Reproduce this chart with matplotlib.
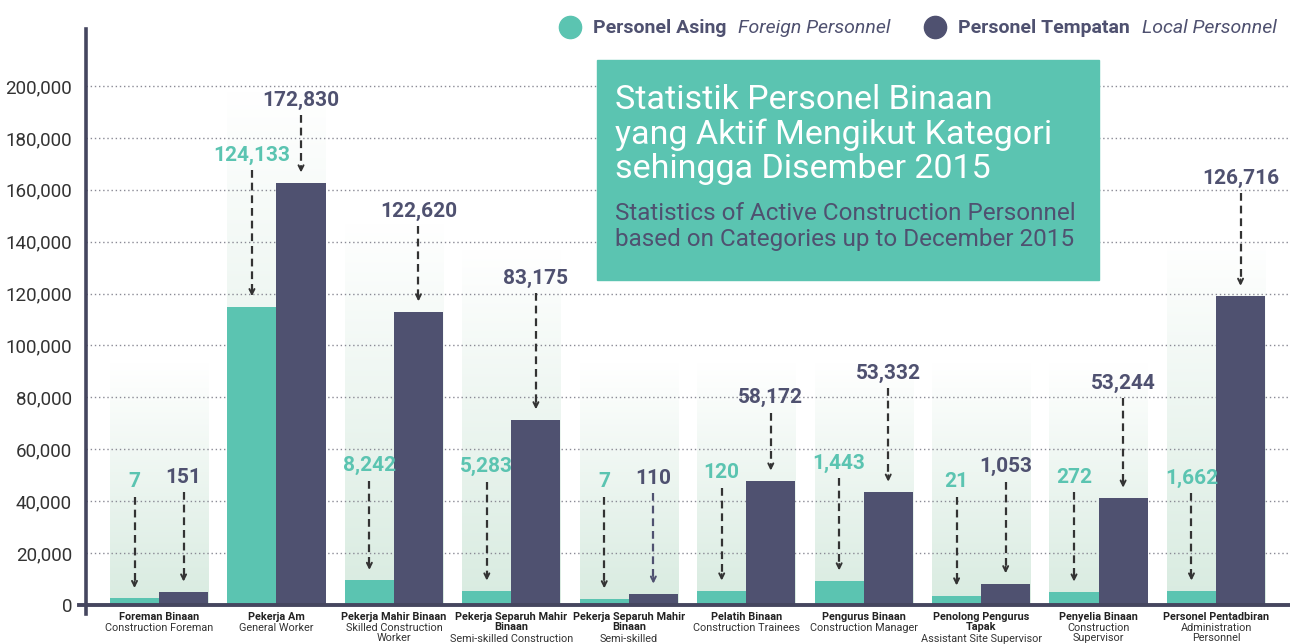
""" bar chart of active construction personnel by category, Dec 2015 """
import matplotlib.pyplot as plt
import numpy as np
from matplotlib.colors import LinearSegmentedColormap
from matplotlib.patches import Rectangle
from matplotlib.lines import Line2D

plt.rcParams['font.family'] = ['Roboto', 'DejaVu Sans']

cat_ms = ["Foreman Binaan", "Pekerja Am", "Pekerja Mahir Binaan",
          "Pekerja Separuh Mahir\nBinaan", "Pekerja Separuh Mahir\nBinaan",
          "Pelatih Binaan", "Pengurus Binaan", "Penolong Pengurus\nTapak",
          "Penyelia Binaan", "Personel Pentadbiran"]
cat_en = ["Construction Foreman", "General Worker", "Skilled Construction\nWorker",
          "Semi-skilled Construction", "Semi-skilled",
          "Construction Trainees", "Construction Manager", "Assistant Site Supervisor",
          "Construction\nSupervisor", "Administration\nPersonnel"]

# values printed on the chart
foreign_vals = [7, 124133, 8242, 5283, 7, 120, 1443, 21, 272, 1662]
local_vals = [151, 172830, 122620, 83175, 110, 58172, 53332, 1053, 53244, 126716]

# bar heights as drawn in the infographic (not to scale with the labels)
foreign_drawn = [2500, 115000, 9500, 5400, 2400, 5400, 9300, 3500, 5000, 5400]
local_drawn = [5000, 162700, 113000, 71400, 4200, 47800, 43500, 8200, 41200, 119000]

# layout: height of the faded backdrop and of the value labels
backdrop_top = [93000, 198000, 147000, 137000, 93000, 93000, 93000, 93000, 93000, 140000]
label_y_foreign = [47400, 173400, 53600, 53200, 47400, 50900, 54700, 47400, 49300, 48900]
label_y_local = [49300, 194600, 151800, 126000, 48900, 79800, 89400, 53200, 85500, 164500]

TEAL = "#5bc4b1"
SLATE = "#4f5170"
W, H = 1290, 644

fig = plt.figure(figsize=(W / 100, H / 100), dpi=100)
ax = fig.add_axes([86 / W, (H - 614) / H, 1 - 86 / W, 585 / H])

x = np.arange(len(cat_ms))
bw = 0.418

ax.set_xlim(-0.622, 9.63)
ax.set_ylim(-3500, 222000)

# faded backdrops behind each group
cmap = LinearSegmentedColormap.from_list("fade", ["#ffffff", "#d8ebe0"])
grad = np.linspace(0, 1, 256).reshape(-1, 1)
for i in x:
    ax.imshow(grad, cmap=cmap, aspect="auto", origin="upper",
              extent=[i - bw, i + bw, 0, backdrop_top[i]], zorder=0.5)

for yv in range(20000, 200001, 20000):
    ax.axhline(yv, color="#8a8a95", lw=1, ls=(0, (1, 2)), zorder=1)

ax.bar(x - bw / 2, foreign_drawn, bw, color=TEAL, zorder=2)
ax.bar(x + bw / 2, local_drawn, bw, color=SLATE, zorder=2)

ax.axhline(0, xmin=-0.006, color="#45465f", lw=2.8, zorder=3, clip_on=False)

for i in x:
    for dx, val, ly, top, col in [(-bw / 2, foreign_vals[i], label_y_foreign[i], foreign_drawn[i], TEAL),
                                   (bw / 2, local_vals[i], label_y_local[i], local_drawn[i], SLATE)]:
        xc = i + dx
        ax.text(xc, ly, f"{val:,}", ha="center", va="center", color=col,
                fontsize=15, fontweight="semibold", zorder=4)
        acol = SLATE if (i == 4 and dx > 0) else "#333333"
        ax.plot([xc, xc], [ly - 5800, top + 5200], color=acol, lw=1.6,
                ls=(0, (3.5, 2.2)), zorder=4)
        ax.annotate("", xy=(xc, top + 4000), xytext=(xc, top + 6500),
                    arrowprops=dict(arrowstyle="->", color=acol, lw=1.4,
                                    mutation_scale=9, shrinkA=0, shrinkB=0),
                    zorder=4)

# category labels
for i in x:
    ax.annotate(cat_ms[i], xy=(i, 0), xytext=(0, -7), textcoords="offset pixels",
                ha="center", va="top", fontsize=7.8, fontweight="bold",
                color="#222222", linespacing=1.0, annotation_clip=False)
    nl = cat_ms[i].count("\n") + 1
    ax.annotate(cat_en[i], xy=(i, 0), xytext=(0, -7 - 11 * nl), textcoords="offset pixels",
                ha="center", va="top", fontsize=7.8, color="#333333",
                linespacing=1.0, annotation_clip=False)

ax.set_yticks(range(0, 200001, 20000))
ax.set_yticklabels([f"{v:,}" for v in range(0, 200001, 20000)], fontsize=13.5, color="#333333")
ax.set_xticks([])
ax.tick_params(axis="y", length=0, pad=10)
for s in ["top", "right", "bottom"]:
    ax.spines[s].set_visible(False)
ax.spines["left"].set_color("#45465f")
ax.spines["left"].set_linewidth(2.6)

# legend
fig.add_artist(Line2D([570 / W], [1 - 27 / H], marker="o", markersize=16, color=TEAL,
                      transform=fig.transFigure))
fig.add_artist(Line2D([935 / W], [1 - 27 / H], marker="o", markersize=16, color=SLATE,
                      transform=fig.transFigure))
fig.text(593 / W, 1 - 28 / H, "Personel Asing", fontsize=14, fontweight="bold", color=SLATE, va="center")
fig.text(738 / W, 1 - 28 / H, "Foreign Personnel", fontsize=14, style="italic", color=SLATE, va="center")
fig.text(958 / W, 1 - 28 / H, "Personel Tempatan", fontsize=14, fontweight="bold", color=SLATE, va="center")
fig.text(1142 / W, 1 - 28 / H, "Local Personnel", fontsize=14, style="italic", color=SLATE, va="center")

# title box
fig.add_artist(Rectangle((597 / W, 1 - 280 / H), 502 / W, 220 / H, color=TEAL,
                         transform=fig.transFigure, zorder=5))
fig.text(615 / W, 1 - 84 / H, "Statistik Personel Binaan\nyang Aktif Mengikut Kategori\nsehingga Disember 2015",
         fontsize=24.5, color="white", va="top", linespacing=1.08, zorder=6)
fig.text(615 / W, 1 - 202 / H, "Statistics of Active Construction Personnel\nbased on Categories up to December 2015",
         fontsize=17.5, color=SLATE, va="top", linespacing=1.15, zorder=6)

fig.savefig("out.png", dpi=100)
